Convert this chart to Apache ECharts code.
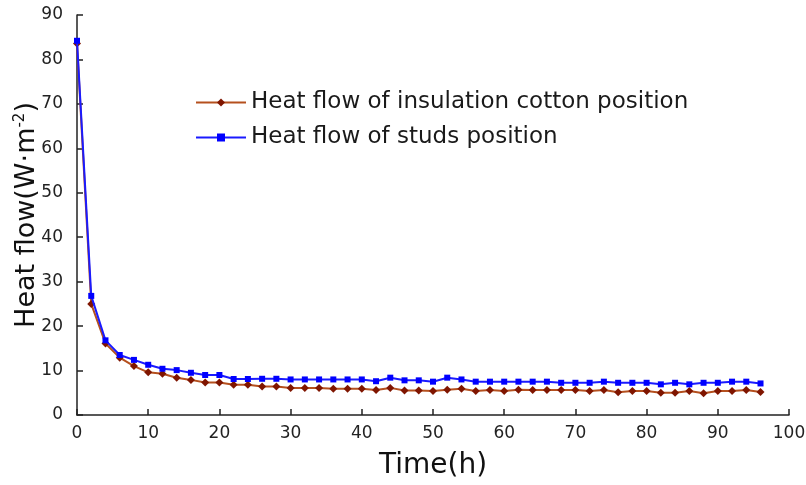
<!DOCTYPE html>
<html>
<head>
<meta charset="utf-8">
<script src="https://cdn.jsdelivr.net/npm/echarts@6/dist/echarts.min.js"></script>
<style>
  html, body { margin: 0; padding: 0; background: #fff; }
  #main { width: 806px; height: 485px; }
</style>
</head>
<body>
<div id="main"></div>
<script>
// time (h), sampled every 2 hours
var hours = [0, 2, 4, 6, 8, 10, 12, 14, 16, 18, 20, 22, 24, 26, 28, 30, 32, 34, 36, 38, 40,
  42, 44, 46, 48, 50, 52, 54, 56, 58, 60, 62, 64, 66, 68, 70, 72, 74, 76, 78, 80,
  82, 84, 86, 88, 90, 92, 94, 96];

// heat flow of insulation cotton position
var cotton = [83.6, 25.0, 16.1, 12.9, 11.0, 9.6, 9.3, 8.4, 7.9, 7.3, 7.3, 6.8, 6.8, 6.4, 6.4, 6.1, 6.1, 6.1, 5.9, 5.9, 5.9,
  5.6, 6.1, 5.5, 5.5, 5.4, 5.7, 5.9, 5.4, 5.6, 5.4, 5.7, 5.6, 5.6, 5.6, 5.6, 5.4, 5.6, 5.1, 5.4, 5.4,
  5.0, 5.0, 5.4, 4.9, 5.4, 5.4, 5.6, 5.2];

// heat flow of studs position
var studs = [84.2, 26.8, 16.8, 13.5, 12.4, 11.3, 10.4, 10.1, 9.5, 9.0, 9.0, 8.1, 8.1, 8.15, 8.15, 8.0, 8.0, 8.0, 8.0, 8.0, 8.0,
  7.6, 8.4, 7.8, 7.8, 7.5, 8.4, 8.0, 7.5, 7.5, 7.5, 7.5, 7.5, 7.5, 7.25, 7.25, 7.25, 7.5, 7.25, 7.25, 7.25,
  6.9, 7.25, 6.9, 7.25, 7.25, 7.5, 7.5, 7.1];

function pairs(ys) {
  return hours.map(function (h, i) { return [h, ys[i]]; });
}

var font = 'DejaVu Sans';
var myChart = echarts.init(document.getElementById('main'));

myChart.setOption({
  animation: false,
  grid: { left: 77, right: 17, top: 15, bottom: 70, outerBoundsMode: 'none' },
  legend: {
    orient: 'vertical',
    left: 190,
    top: 86,
    itemWidth: 50,
    itemHeight: 10,
    itemGap: 12,
    textStyle: { fontFamily: font, fontSize: 23, color: '#1a1a1a', padding: [0, 0, 0, 0] },
    data: ['Heat flow of insulation cotton position', 'Heat flow of studs position']
  },
  xAxis: {
    type: 'value',
    min: 0,
    max: 100,
    interval: 10,
    name: 'Time(h)',
    nameLocation: 'middle',
    nameGap: 37,
    nameMoveOverlap: false,
    nameTextStyle: { fontFamily: font, fontSize: 28, color: '#111' },
    axisLine: { lineStyle: { color: '#222', width: 1.5 } },
    axisTick: { inside: true, length: 6, lineStyle: { color: '#222', width: 1.5 } },
    axisLabel: { fontFamily: font, fontSize: 17, color: '#222', margin: 10 },
    splitLine: { show: false }
  },
  yAxis: {
    type: 'value',
    min: 0,
    max: 90,
    interval: 10,
    name: 'Heat flow(W·m{sup|-2})',
    nameLocation: 'middle',
    nameGap: 37,
    nameMoveOverlap: false,
    nameTextStyle: {
      fontFamily: font, fontSize: 27, color: '#111',
      rich: {
        sup: { fontFamily: font, fontSize: 15, color: '#111', verticalAlign: 'top', padding: [0, 0, 12, 0] }
      }
    },
    axisLine: { show: true, lineStyle: { color: '#222', width: 1.5 } },
    axisTick: { show: true, inside: true, length: 6, lineStyle: { color: '#222', width: 1.5 } },
    axisLabel: { fontFamily: font, fontSize: 17, color: '#222', margin: 14 },
    splitLine: { show: false }
  },
  series: [
    {
      name: 'Heat flow of insulation cotton position',
      type: 'line',
      data: pairs(cotton),
      symbol: 'diamond',
      symbolSize: 8,
      lineStyle: { color: '#b5501e', width: 2 },
      itemStyle: { color: '#7f1500' },
      z: 2
    },
    {
      name: 'Heat flow of studs position',
      type: 'line',
      data: pairs(studs),
      symbol: 'rect',
      symbolSize: 6,
      lineStyle: { color: '#1a1aff', width: 2 },
      itemStyle: { color: '#0000ff' },
      z: 3
    }
  ]
});
</script>
</body>
</html>
